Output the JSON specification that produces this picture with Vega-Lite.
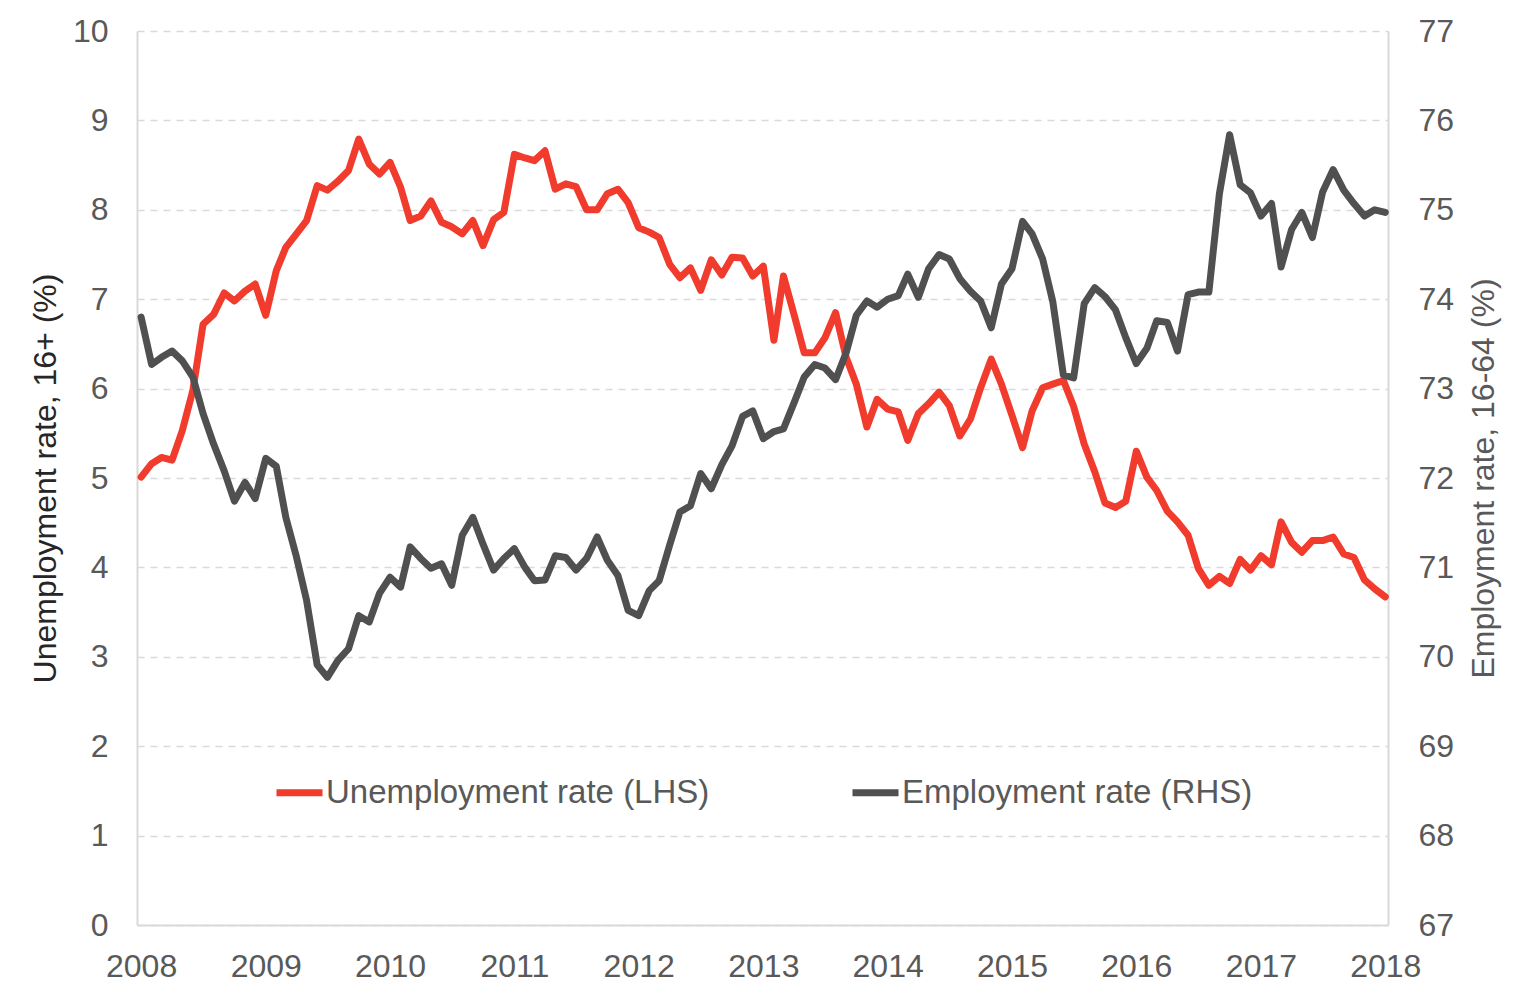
{
  "$schema": "https://vega.github.io/schema/vega-lite/v6.json",
  "width": 1251,
  "height": 894,
  "autosize": "none",
  "padding": {"left": 137, "top": 31, "right": 138, "bottom": 72},
  "background": "white",
  "config": {"view": {"stroke": null}, "font": "Liberation Sans"},
  "data": {"values": [
    {"d":"2008-01-01","u":5.01,"e":73.80},{"d":"2008-02-01","u":5.16,"e":73.27},{"d":"2008-03-01","u":5.23,"e":73.35},{"d":"2008-04-01","u":5.20,"e":73.42},{"d":"2008-05-01","u":5.53,"e":73.31},{"d":"2008-06-01","u":5.98,"e":73.13},{"d":"2008-07-01","u":6.72,"e":72.72},{"d":"2008-08-01","u":6.83,"e":72.38},{"d":"2008-09-01","u":7.07,"e":72.08},{"d":"2008-10-01","u":6.98,"e":71.74},{"d":"2008-11-01","u":7.09,"e":71.95},{"d":"2008-12-01","u":7.17,"e":71.77},
    {"d":"2009-01-01","u":6.82,"e":72.22},{"d":"2009-02-01","u":7.32,"e":72.13},{"d":"2009-03-01","u":7.58,"e":71.56},{"d":"2009-04-01","u":7.73,"e":71.12},{"d":"2009-05-01","u":7.88,"e":70.63},{"d":"2009-06-01","u":8.27,"e":69.91},{"d":"2009-07-01","u":8.22,"e":69.77},{"d":"2009-08-01","u":8.32,"e":69.96},{"d":"2009-09-01","u":8.44,"e":70.09},{"d":"2009-10-01","u":8.79,"e":70.46},{"d":"2009-11-01","u":8.51,"e":70.39},{"d":"2009-12-01","u":8.40,"e":70.71},
    {"d":"2010-01-01","u":8.53,"e":70.89},{"d":"2010-02-01","u":8.25,"e":70.78},{"d":"2010-03-01","u":7.88,"e":71.23},{"d":"2010-04-01","u":7.93,"e":71.10},{"d":"2010-05-01","u":8.10,"e":70.99},{"d":"2010-06-01","u":7.86,"e":71.04},{"d":"2010-07-01","u":7.81,"e":70.80},{"d":"2010-08-01","u":7.73,"e":71.36},{"d":"2010-09-01","u":7.88,"e":71.56},{"d":"2010-10-01","u":7.60,"e":71.26},{"d":"2010-11-01","u":7.89,"e":70.97},{"d":"2010-12-01","u":7.97,"e":71.10},
    {"d":"2011-01-01","u":8.62,"e":71.21},{"d":"2011-02-01","u":8.58,"e":71.00},{"d":"2011-03-01","u":8.55,"e":70.85},{"d":"2011-04-01","u":8.66,"e":70.86},{"d":"2011-05-01","u":8.23,"e":71.13},{"d":"2011-06-01","u":8.29,"e":71.11},{"d":"2011-07-01","u":8.26,"e":70.97},{"d":"2011-08-01","u":8.00,"e":71.10},{"d":"2011-09-01","u":8.00,"e":71.34},{"d":"2011-10-01","u":8.18,"e":71.08},{"d":"2011-11-01","u":8.23,"e":70.91},{"d":"2011-12-01","u":8.08,"e":70.52},
    {"d":"2012-01-01","u":7.80,"e":70.46},{"d":"2012-02-01","u":7.75,"e":70.74},{"d":"2012-03-01","u":7.69,"e":70.85},{"d":"2012-04-01","u":7.39,"e":71.25},{"d":"2012-05-01","u":7.24,"e":71.62},{"d":"2012-06-01","u":7.35,"e":71.69},{"d":"2012-07-01","u":7.10,"e":72.05},{"d":"2012-08-01","u":7.44,"e":71.88},{"d":"2012-09-01","u":7.27,"e":72.15},{"d":"2012-10-01","u":7.47,"e":72.36},{"d":"2012-11-01","u":7.46,"e":72.69},{"d":"2012-12-01","u":7.26,"e":72.75},
    {"d":"2013-01-01","u":7.37,"e":72.44},{"d":"2013-02-01","u":6.54,"e":72.52},{"d":"2013-03-01","u":7.26,"e":72.55},{"d":"2013-04-01","u":6.83,"e":72.84},{"d":"2013-05-01","u":6.40,"e":73.13},{"d":"2013-06-01","u":6.40,"e":73.27},{"d":"2013-07-01","u":6.57,"e":73.23},{"d":"2013-08-01","u":6.85,"e":73.10},{"d":"2013-09-01","u":6.35,"e":73.40},{"d":"2013-10-01","u":6.05,"e":73.82},{"d":"2013-11-01","u":5.57,"e":73.98},{"d":"2013-12-01","u":5.88,"e":73.91},
    {"d":"2014-01-01","u":5.77,"e":74.00},{"d":"2014-02-01","u":5.74,"e":74.04},{"d":"2014-03-01","u":5.42,"e":74.28},{"d":"2014-04-01","u":5.72,"e":74.02},{"d":"2014-05-01","u":5.83,"e":74.34},{"d":"2014-06-01","u":5.96,"e":74.50},{"d":"2014-07-01","u":5.81,"e":74.45},{"d":"2014-08-01","u":5.47,"e":74.23},{"d":"2014-09-01","u":5.66,"e":74.09},{"d":"2014-10-01","u":6.01,"e":73.98},{"d":"2014-11-01","u":6.33,"e":73.68},{"d":"2014-12-01","u":6.05,"e":74.17},
    {"d":"2015-01-01","u":5.70,"e":74.34},{"d":"2015-02-01","u":5.34,"e":74.87},{"d":"2015-03-01","u":5.75,"e":74.73},{"d":"2015-04-01","u":6.01,"e":74.45},{"d":"2015-05-01","u":6.05,"e":73.97},{"d":"2015-06-01","u":6.09,"e":73.15},{"d":"2015-07-01","u":5.80,"e":73.12},{"d":"2015-08-01","u":5.38,"e":73.95},{"d":"2015-09-01","u":5.07,"e":74.13},{"d":"2015-10-01","u":4.72,"e":74.03},{"d":"2015-11-01","u":4.67,"e":73.88},{"d":"2015-12-01","u":4.74,"e":73.57},
    {"d":"2016-01-01","u":5.30,"e":73.28},{"d":"2016-02-01","u":5.01,"e":73.45},{"d":"2016-03-01","u":4.86,"e":73.76},{"d":"2016-04-01","u":4.63,"e":73.74},{"d":"2016-05-01","u":4.51,"e":73.42},{"d":"2016-06-01","u":4.36,"e":74.05},{"d":"2016-07-01","u":3.99,"e":74.08},{"d":"2016-08-01","u":3.80,"e":74.08},{"d":"2016-09-01","u":3.90,"e":75.18},{"d":"2016-10-01","u":3.82,"e":75.84},{"d":"2016-11-01","u":4.09,"e":75.28},{"d":"2016-12-01","u":3.97,"e":75.19},
    {"d":"2017-01-01","u":4.13,"e":74.93},{"d":"2017-02-01","u":4.03,"e":75.07},{"d":"2017-03-01","u":4.51,"e":74.36},{"d":"2017-04-01","u":4.28,"e":74.78},{"d":"2017-05-01","u":4.17,"e":74.97},{"d":"2017-06-01","u":4.30,"e":74.69},{"d":"2017-07-01","u":4.30,"e":75.20},{"d":"2017-08-01","u":4.34,"e":75.45},{"d":"2017-09-01","u":4.15,"e":75.22},{"d":"2017-10-01","u":4.11,"e":75.07},{"d":"2017-11-01","u":3.86,"e":74.93},{"d":"2017-12-01","u":3.76,"e":75.00},
    {"d":"2018-01-01","u":3.67,"e":74.97}
  ]},
  "encoding": {
    "x": {
      "field": "d", "type": "temporal",
      "scale": {"type": "utc", "domain": [{"year":2007,"month":12,"date":20,"utc":true},{"year":2018,"month":1,"date":9,"utc":true}]},
      "axis": {
        "title": null, "formatType": "utc", "format": "%Y",
        "values": [{"year":2008,"month":1,"date":1,"utc":true},{"year":2009,"month":1,"date":1,"utc":true},{"year":2010,"month":1,"date":1,"utc":true},{"year":2011,"month":1,"date":1,"utc":true},{"year":2012,"month":1,"date":1,"utc":true},{"year":2013,"month":1,"date":1,"utc":true},{"year":2014,"month":1,"date":1,"utc":true},{"year":2015,"month":1,"date":1,"utc":true},{"year":2016,"month":1,"date":1,"utc":true},{"year":2017,"month":1,"date":1,"utc":true},{"year":2018,"month":1,"date":1,"utc":true}],
        "grid": false, "ticks": false, "tickSize": 0, "labelPadding": 26,
        "labelFontSize": 32, "labelColor": "#595959", "labelFont": "Liberation Sans",
        "labelFlush": false, "labelOverlap": false,
        "domainColor": "#D9D9D9", "domainWidth": 2
      }
    }
  },
  "layer": [
    {
      "mark": {"type": "line", "strokeWidth": 7, "strokeJoin": "round", "strokeCap": "round"},
      "encoding": {
        "y": {
          "field": "u", "type": "quantitative",
          "scale": {"domain": [0, 10], "nice": false, "zero": false},
          "axis": {
            "orient": "left", "title": "Unemployment rate, 16+ (%)", "tickCount": 10,
            "grid": true, "gridDash": [7, 6], "gridColor": "#D9D9D9", "gridWidth": 1.4,
            "domainColor": "#D9D9D9", "domainWidth": 2, "ticks": false, "tickSize": 0,
            "labelPadding": 29, "labelFontSize": 32, "labelColor": "#595959", "labelFont": "Liberation Sans",
            "titleFontSize": 32, "titleFontWeight": "normal", "titleColor": "#262626", "titleFont": "Liberation Sans",
            "titleAngle": -90, "titleX": -82, "titleY": 447, "titleAlign": "center", "titleBaseline": "alphabetic"
          }
        },
        "color": {
          "datum": "Unemployment rate (LHS)",
          "scale": {"domain": ["Unemployment rate (LHS)", "Employment rate (RHS)"], "range": ["#F03B2D", "#505050"]},
          "legend": {
            "orient": "none", "legendX": 136, "legendY": 735, "direction": "horizontal", "columns": 2,
            "title": null, "symbolType": "stroke", "symbolSize": 2116, "symbolStrokeWidth": 7,
            "labelFontSize": 33, "labelColor": "#595959", "labelFont": "Liberation Sans", "labelOffset": 0,
            "labelLimit": 0, "columnPadding": 128
          }
        }
      }
    },
    {
      "mark": {"type": "line", "strokeWidth": 7, "strokeJoin": "round", "strokeCap": "round"},
      "encoding": {
        "y": {
          "field": "e", "type": "quantitative",
          "scale": {"domain": [67, 77], "nice": false, "zero": false},
          "axis": {
            "orient": "right", "title": "Employment rate, 16-64 (%)", "tickCount": 10,
            "grid": false, "domainColor": "#D9D9D9", "domainWidth": 2, "ticks": false, "tickSize": 0,
            "labelPadding": 30, "labelFontSize": 32, "labelColor": "#595959", "labelFont": "Liberation Sans",
            "titleFontSize": 32, "titleFontWeight": "normal", "titleColor": "#595959", "titleFont": "Liberation Sans",
            "titleAngle": -90, "titleX": 105, "titleY": 447, "titleAlign": "center", "titleBaseline": "alphabetic"
          }
        },
        "color": {"datum": "Employment rate (RHS)"}
      }
    }
  ],
  "resolve": {"scale": {"y": "independent"}}
}
